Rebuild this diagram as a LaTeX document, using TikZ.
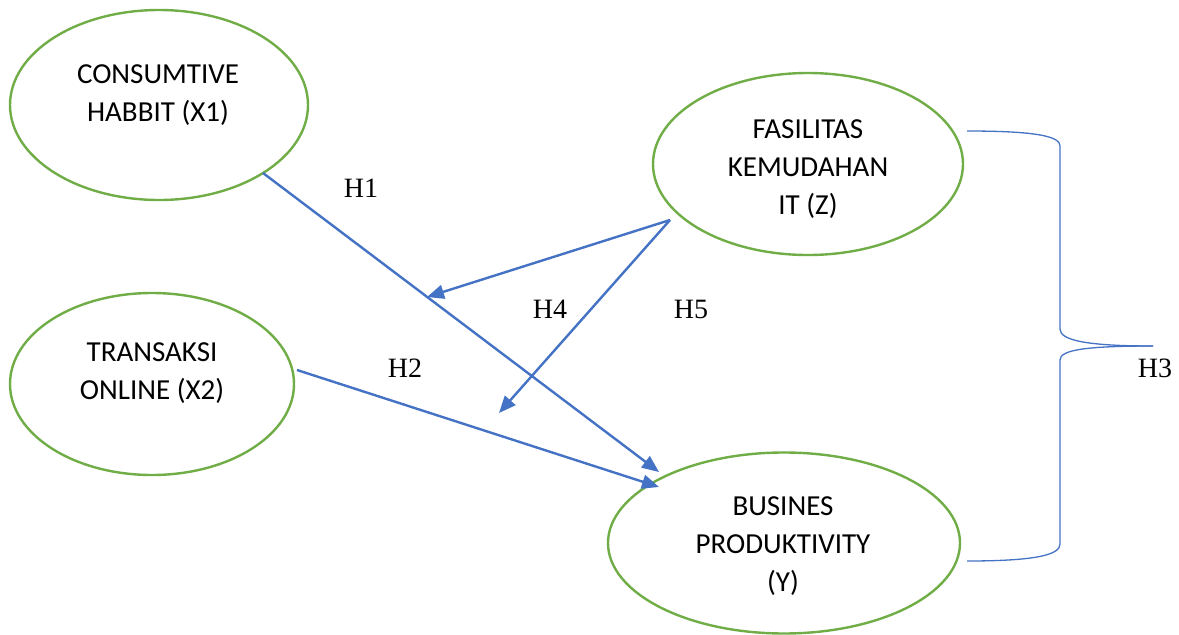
\documentclass[tikz,border=0pt]{standalone}
\usepackage{fontspec}
\setmainfont{Liberation Serif}
\newfontfamily\calib{Carlito}
\usetikzlibrary{arrows.meta,shapes.geometric}
\definecolor{wgreen}{HTML}{70AD47}
\definecolor{wblue}{HTML}{4472C4}
\tikzset{
  ell/.style={draw=wgreen, line width=2.4pt, ellipse, inner sep=0pt},
  etext/.style={align=center, font=\calib\fontsize{29}{38}\selectfont, inner sep=0pt},
  hlab/.style={font=\fontsize{28}{32}\selectfont, inner sep=0pt},
  arr/.style={draw=wblue, line width=2.4pt, -{Triangle[length=17pt,width=14pt]}},
  brace/.style={draw=wblue, line width=1.3pt}
}
\begin{document}
\begin{tikzpicture}[x=1pt,y=-1pt]
\useasboundingbox (0,0) rectangle (1179,635);
% ellipses
\node[ell, minimum width=298pt, minimum height=190pt] (x1) at (159,105) {};
\node[ell, minimum width=284pt, minimum height=182pt] (x2) at (152,384) {};
\node[ell, minimum width=310pt, minimum height=182pt] (z) at (808,164) {};
\node[ell, minimum width=352pt, minimum height=181pt] (y) at (784,543) {};
% texts
\node[etext] (x1t) at (158,95) {CONSUMTIVE\\HABBIT (X1)};
\node[etext] (x2t) at (152,373) {TRANSAKSI\\ONLINE (X2)};
\node[etext] (zt) at (808,169) {FASILITAS\\KEMUDAHAN\\IT (Z)};
\node[etext] (yt) at (783,546) {BUSINES\\PRODUKTIVITY\\(Y)};
% connector end points
\coordinate (h1s) at (263,173);
\coordinate (h1e) at (659,472);
\coordinate (h2s) at (297,370);
\coordinate (h2e) at (659,487);
\coordinate (zs) at (670,220);
\coordinate (a4) at (427,297);
\coordinate (a5) at (499,413);
\draw[arr] (h1s) -- (h1e);
\draw[arr] (h2s) -- (h2e);
\draw[arr] (zs) -- (a4);
\draw[arr] (zs) -- (a5);
% brace
\coordinate (bt) at (967,131);
\coordinate (bm) at (1153,346);
\coordinate (bb) at (967,561);
\draw[brace] (bt) .. controls (1040,131) and (1060,137) .. (1060,146) -- (1060,329)
  .. controls (1060,340) and (1085,346) .. (bm);
\draw[brace] (bm) .. controls (1085,346) and (1060,350) .. (1060,360) -- (1060,544)
  .. controls (1060,554) and (1040,561) .. (bb);
% labels
\node[hlab] (H1) at (361,188) {H1};
\node[hlab] (H2) at (405,368) {H2};
\node[hlab] (H4) at (550,309) {H4};
\node[hlab] (H5) at (691,309) {H5};
\node[hlab] (H3) at (1155,368) {H3};
\end{tikzpicture}
\end{document}
